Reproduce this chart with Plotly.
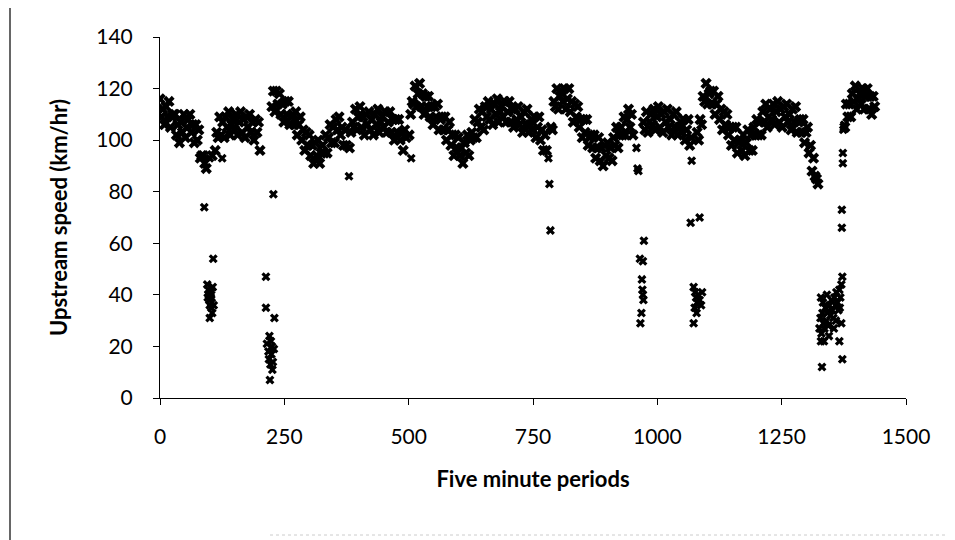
import plotly.graph_objects as go

# main band: one reading every 3 periods (None = period sits in a low cluster)
band_step = 3
band_speed = [
    116, 109, 112, 106, 113, 109, 115, 105, 109, 110,
    110, 102, 106, 99, 107, 103, 110, 101, 105, 108,
    110, 103, 106, 99, 106, 100, 104, 93, 94, 94,
    91, 89, None, None, None, 94, None, 96, 103, 101,
    109, 102, 107, 101, 109, 105, 111, 102, 106, 108,
    104, 110, 102, 107, 111, 103, 108, 101, 109, 105,
    110, 103, 107, 100, 108, 103, 107, 96, None, None,
    None, None, None, None, None, 113, 119, 111, 119, 114,
    118, 110, 114, 107, 115, 110, 115, 106, 109, 110,
    106, 111, 102, 106, 109, 100, 104, 96, 103, 98,
    102, 94, 98, 91, 99, 94, 100, 91, 95, 98,
    95, 102, 95, 101, 106, 99, 105, 99, 108, 104,
    109, 102, 105, 98, 104, 98, None, 97, 103, 107,
    105, 112, 104, 109, 113, 105, 109, 102, 110, 106,
    111, 104, 108, 102, 110, 106, 112, 103, 107, 109,
    105, 111, 103, 107, 111, 103, 108, 100, 108, 103,
    108, 100, 103, 96, 104, 101, None, 102, 110, 115,
    114, 121, 113, 118, 122, 113, 118, 110, 117, 113,
    117, 109, 113, 106, 113, 109, 114, 104, 108, 109,
    104, 109, 100, 104, 107, 98, 102, 94, 102, 97,
    101, 94, 97, 91, 99, 95, 102, 94, 100, 103,
    101, 108, 101, 107, 112, 105, 111, 104, 113, 109,
    115, 108, 112, 106, 114, 110, 116, 107, 111, 113,
    109, 115, 107, 111, 115, 107, 112, 105, 112, 108,
    113, 106, 109, 103, 111, 106, 112, 103, 106, 108,
    104, 109, 101, 105, 109, 100, 104, 96, 102, 96,
    None, None, 105, 104, 115, 113, 120, 112, 117, 119,
    115, 120, 112, 116, 120, 111, 115, 107, 114, 109,
    113, 105, 108, 101, 108, 103, 108, 98, 101, 102,
    97, 102, 93, 97, 101, 92, 97, 90, 98, 94,
    99, 93, 97, 92, 101, 98, 105, 97, 102, 105,
    102, 109, 102, 108, 112, 105, 110, 102, None, None,
    None, None, None, None, 107, 104, 111, 103, 107, 110,
    106, 112, 104, 109, 113, 105, 110, 103, 111, 107,
    112, 105, 108, 102, 110, 105, 111, 102, 105, 107,
    103, 108, 100, 104, 108, 98, 101, None, None, None,
    103, 100, 108, 106, 117, 115, 122, 114, 118, 119,
    114, 119, 110, 114, 117, 108, 112, 104, 111, 106,
    110, 102, 105, 98, 105, 100, 105, 95, 99, 100,
    96, 102, 94, 99, 104, 96, 102, 96, 105, 102,
    108, 102, 107, 102, 111, 107, 114, 105, 109, 112,
    108, 114, 106, 111, 115, 107, 112, 105, 113, 109,
    114, 107, 110, 104, 112, 107, 113, 103, 107, 108,
    103, 108, 99, 103, 105, 95, 98, 88, 93, 86,
    85, 83, None, None, None, None, None, None, None, None,
    None, None, None, None, None, None, None, None, None, 105,
    114, 109, 114, 109, 118, 115, 121, 112, 116, 118,
    114, 120, 112, 117, 120, 112, 117, 110, 117, 113,
]
band_period = [i * band_step for i in range(len(band_speed))]

# low readings / outliers (period, speed)
low_period = [
    89, 107, 95, 97, 98, 99, 100, 101, 102, 103, 104, 105, 106, 96, 100, 103, 108, 100, 125,
    213, 213, 228, 230, 220, 221, 215, 218, 219, 222, 224, 225, 227, 229, 226, 223,
    380, 505, 781, 783, 785,
    958, 960, 962, 973, 965, 971, 969, 970, 971, 972, 968, 966,
    1069, 1067, 1085, 1073, 1076, 1078, 1080, 1082, 1085, 1088, 1090, 1075, 1079, 1073,
    1373, 1373, 1371, 1371, 1372, 1329, 1329, 1366, 1370, 1372, 1331, 1374, 1376,
    1326, 1328, 1330, 1332, 1334, 1336, 1338, 1340, 1342, 1344, 1346, 1348, 1350, 1352,
    1354, 1356, 1358, 1360, 1362, 1364, 1366, 1368, 1370, 1335, 1345, 1355, 1341, 1359,
    1333, 1367,
]
low_speed = [
    74, 54, 44, 42, 40, 38, 36, 41, 39, 35, 37, 33, 43, 39, 31, 40, 36, 93, 93,
    47, 35, 79, 31, 24, 7, 21, 18, 15, 13, 17, 20, 14, 19, 11, 22,
    86, 93, 93, 83, 65,
    97, 89, 88, 61, 54, 53, 46, 42, 40, 38, 33, 29,
    92, 68, 70, 43, 41, 39, 37, 40, 38, 36, 41, 35, 33, 29,
    95, 91, 73, 66, 47, 39, 22, 22, 29, 15, 12, 104, 106,
    27, 31, 25, 33, 29, 27, 35, 30, 33, 28, 36, 32, 38, 34,
    31, 39, 36, 41, 37, 34, 42, 39, 44, 22, 24, 27, 40, 30,
    37, 35,
]

x_ticks = [0, 250, 500, 750, 1000, 1250, 1500]
y_ticks = [0, 20, 40, 60, 80, 100, 120, 140]

fig = go.Figure()
fig.add_trace(go.Scatter(x=band_period, y=band_speed, mode='markers',
                         marker=dict(symbol='x', size=10, color='black', line=dict(width=0))))
fig.add_trace(go.Scatter(x=low_period, y=low_speed, mode='markers',
                         marker=dict(symbol='x', size=8, color='black', line=dict(width=0))))

font = 'Lato, Open Sans, sans-serif'
fig.update_layout(
    width=955, height=540,
    margin=dict(l=152, r=57, t=29, b=150),
    plot_bgcolor='white', paper_bgcolor='white',
    showlegend=False,
    font=dict(family=font, size=21, color='black'),
)
fig.update_xaxes(
    range=[0, 1500], tickvals=x_ticks, showgrid=False, zeroline=False,
    showline=True, linecolor='black', linewidth=1,
    ticks='outside', ticklen=6, tickcolor='black', ticklabelstandoff=14,
    title=dict(text='<b>Five minute periods</b>', font=dict(size=22), standoff=24),
)
fig.update_yaxes(
    range=[0, 140], tickvals=y_ticks, showgrid=False, zeroline=False,
    showline=True, linecolor='black', linewidth=1,
    ticks='outside', ticklen=6, tickcolor='black', ticklabelstandoff=16,
    title=dict(text='<b>Upstream speed (km/hr)</b>', font=dict(size=22), standoff=22),
)

# scan border on the left and faint line at the bottom
fig.add_shape(type='line', xref='paper', yref='paper',
              x0=-150 / 746, x1=-150 / 746, y0=-150 / 361, y1=1 + 29 / 361,
              line=dict(color='#333333', width=1.5))
fig.add_shape(type='line', xref='paper', yref='paper',
              x0=110 / 746, x1=795 / 746, y0=-137 / 361, y1=-137 / 361,
              line=dict(color='#cccccc', width=1, dash='dot'))

fig.write_html("out.html")
